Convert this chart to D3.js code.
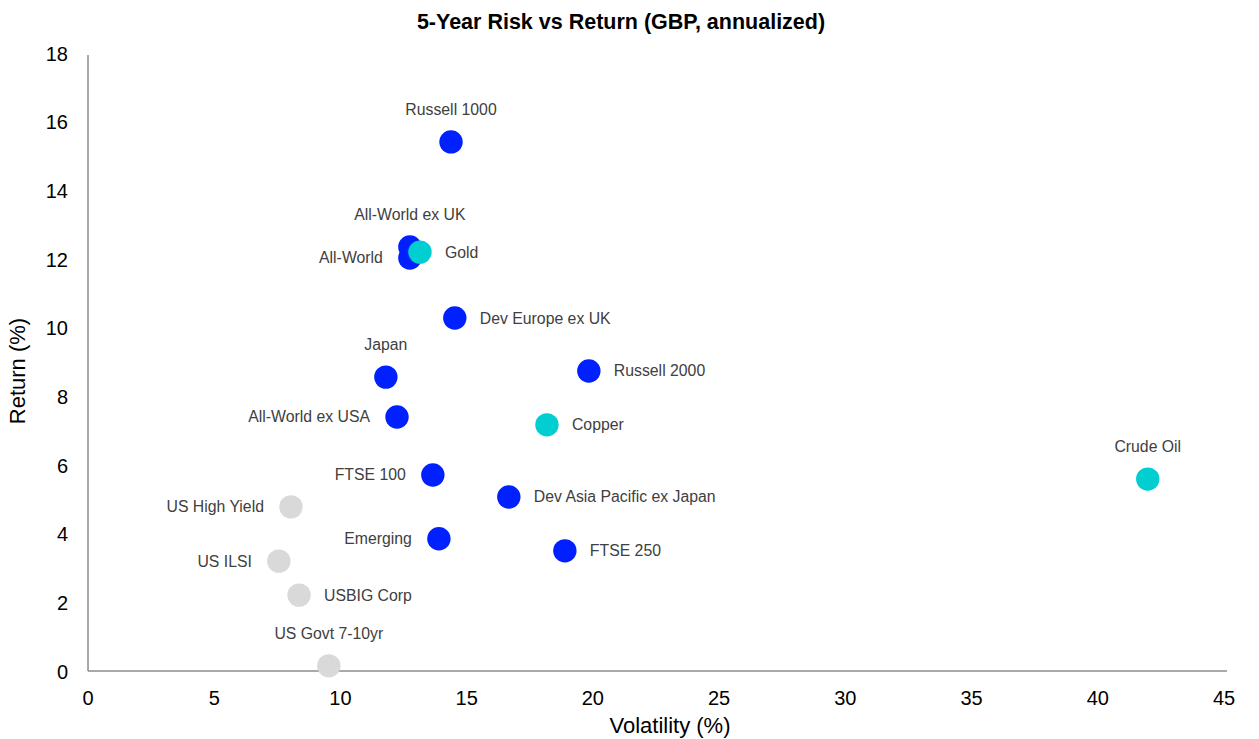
<!DOCTYPE html>
<html>
<head>
<meta charset="utf-8">
<script src="https://cdn.jsdelivr.net/npm/d3@7/dist/d3.min.js"></script>
<style>
  html, body { margin: 0; padding: 0; background: #fff; }
  svg { display: block; font-family: "Liberation Sans", Arial, sans-serif; }
</style>
</head>
<body>
<svg id="chart" width="1259" height="739"></svg>
<script>
// Asset names, annualised 5-year volatility and return (%), group, label side
const names = ["Russell 1000", "All-World ex UK", "All-World", "Gold", "Dev Europe ex UK",
  "Japan", "Russell 2000", "All-World ex USA", "Copper", "Crude Oil", "FTSE 100",
  "Dev Asia Pacific ex Japan", "US High Yield", "Emerging", "FTSE 250", "US ILSI",
  "USBIG Corp", "US Govt 7-10yr"];
const volatility = [14.38, 12.75, 12.75, 13.15, 14.53, 11.8, 19.84, 12.24, 18.18, 41.98,
  13.66, 16.67, 8.04, 13.9, 18.89, 7.56, 8.36, 9.54];
const returns = [15.41, 12.35, 12.03, 12.2, 10.28, 8.56, 8.74, 7.40, 7.17, 5.59,
  5.71, 5.07, 4.78, 3.85, 3.50, 3.20, 2.21, 0.15];
const groups = ["equity", "equity", "equity", "commodity", "equity", "equity", "equity",
  "equity", "commodity", "commodity", "equity", "equity", "bond", "equity", "equity",
  "bond", "bond", "bond"];
const labelSide = ["above", "above", "left", "right", "right", "above", "right", "left",
  "right", "above", "left", "right", "left", "left", "right", "left", "right", "above"];
const xTicks = [0, 5, 10, 15, 20, 25, 30, 35, 40, 45];
const yTicks = [0, 2, 4, 6, 8, 10, 12, 14, 16, 18];

const colors = { equity: "#0020ff", commodity: "#00ced1", bond: "#d9d9d9" };

const svg = d3.select("#chart");
const x = d3.scaleLinear().domain([0, 45]).range([88, 1224]);
const y = d3.scaleLinear().domain([0, 18]).range([671, 53]);

// axis lines
svg.append("line").attr("x1", x(0)).attr("x2", 1227).attr("y1", y(0)).attr("y2", y(0))
  .attr("stroke", "#8c8c8c").attr("stroke-width", 1.5);
svg.append("line").attr("x1", x(0)).attr("x2", x(0)).attr("y1", 55).attr("y2", y(0))
  .attr("stroke", "#8c8c8c").attr("stroke-width", 1.5);

// tick labels
svg.append("g").selectAll("text").data(xTicks).join("text")
  .attr("x", d => x(d)).attr("y", 705).attr("text-anchor", "middle")
  .attr("font-size", 20).attr("fill", "#000").text(d => d);
svg.append("g").selectAll("text").data(yTicks).join("text")
  .attr("x", 68).attr("y", d => y(d) + 7.5).attr("text-anchor", "end")
  .attr("font-size", 20).attr("fill", "#000").text(d => d);

// titles
svg.append("text").attr("x", 621).attr("y", 29).attr("text-anchor", "middle")
  .attr("font-size", 21.5).attr("font-weight", "bold").attr("fill", "#000")
  .text("5-Year Risk vs Return (GBP, annualized)");
svg.append("text").attr("x", 670).attr("y", 733).attr("text-anchor", "middle")
  .attr("font-size", 22).attr("fill", "#000").text("Volatility (%)");
svg.append("text").attr("transform", "translate(25,371) rotate(-90)")
  .attr("text-anchor", "middle").attr("font-size", 22).attr("fill", "#000").text("Return (%)");

const data = names.map((n, i) => ({ name: n, vx: volatility[i], vy: returns[i], g: groups[i], side: labelSide[i] }));

// points
svg.append("g").selectAll("circle").data(data).join("circle")
  .attr("cx", d => x(d.vx)).attr("cy", d => y(d.vy)).attr("r", 11.7)
  .attr("fill", d => colors[d.g]);

// point labels
svg.append("g").selectAll("text").data(data).join("text")
  .attr("x", d => d.side === "above" ? x(d.vx) : d.side === "right" ? x(d.vx) + 25 : x(d.vx) - 27)
  .attr("y", d => d.side === "above" ? y(d.vy) - 27 : y(d.vy) + 5.5)
  .attr("text-anchor", d => d.side === "above" ? "middle" : d.side === "right" ? "start" : "end")
  .attr("font-size", 15.8).attr("fill", "#404040").text(d => d.name);
</script>
</body>
</html>
